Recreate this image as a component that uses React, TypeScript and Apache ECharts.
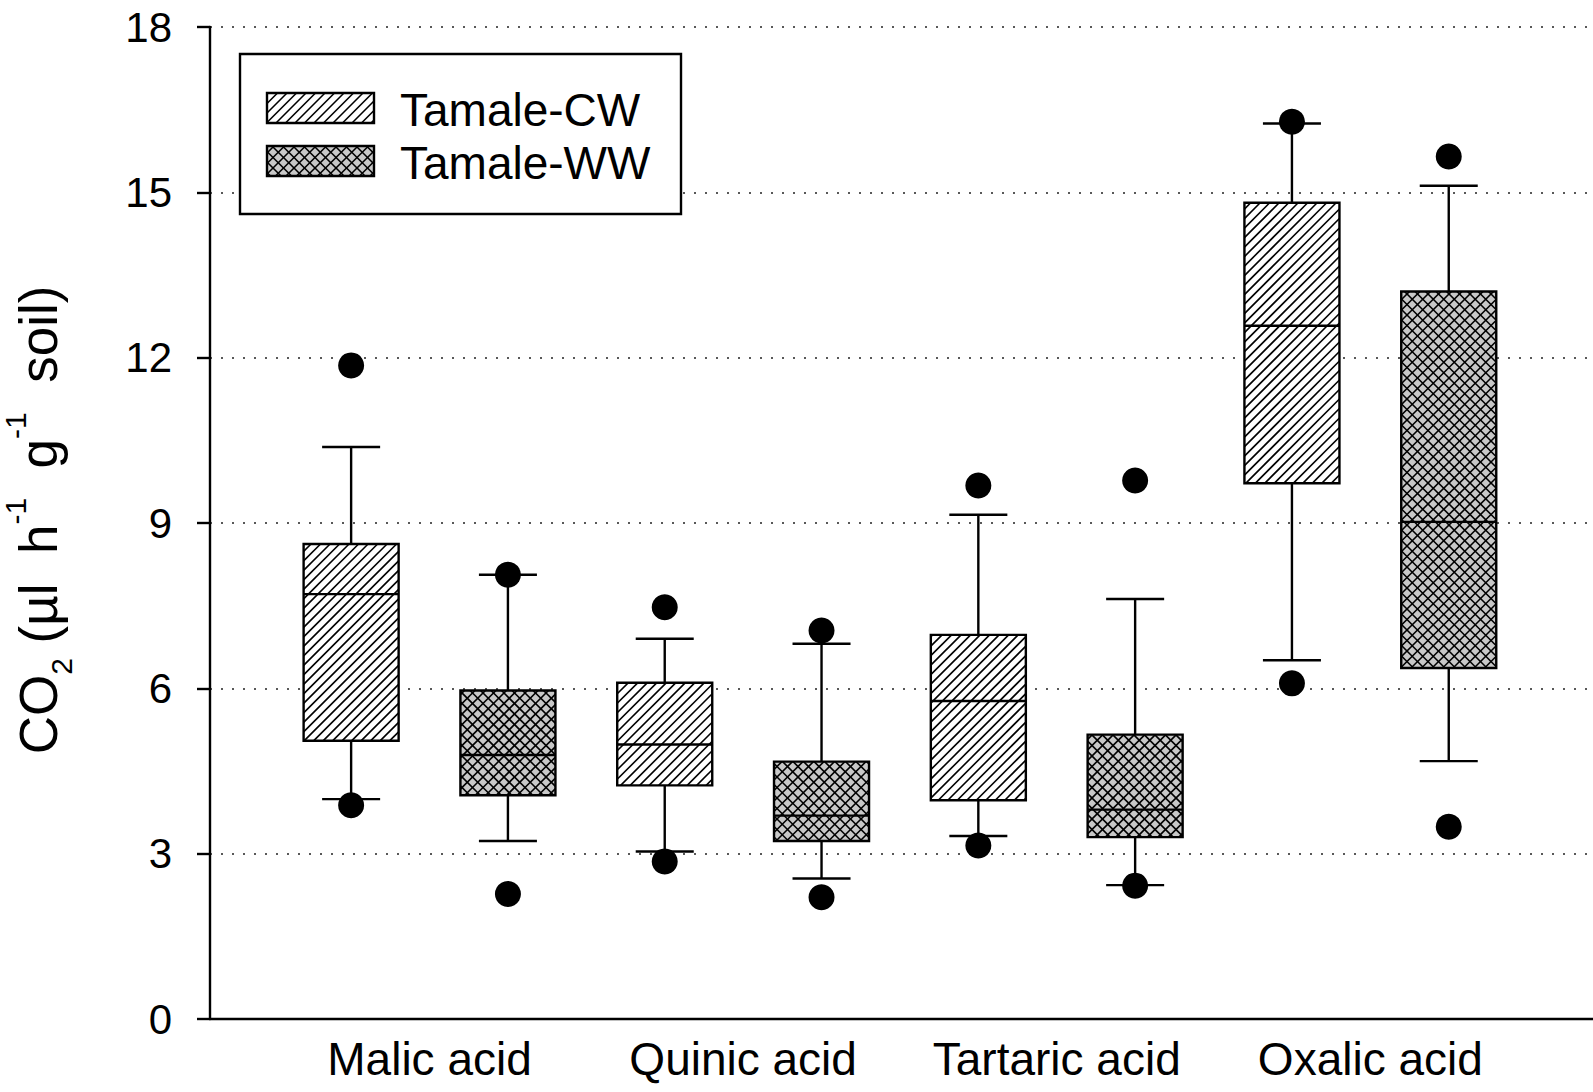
import React, { useEffect, useRef } from "react";
import * as echarts from "echarts";

// ---------- data ----------
const categories = ["Malic acid", "Quinic acid", "Tartaric acid", "Oxalic acid"];
const seriesNames = ["Tamale-CW", "Tamale-WW"];
const yTicks = [0, 3, 6, 9, 12, 15, 18];

// Tamale-CW
const cwWhiskerLow = [3.99, 3.04, 3.32, 6.51];
const cwQ1 = [5.05, 4.24, 3.97, 9.72];
const cwMedian = [7.71, 4.98, 5.77, 12.58];
const cwQ3 = [8.62, 6.1, 6.97, 14.81];
const cwWhiskerHigh = [10.38, 6.9, 9.15, 16.25];
const cwOutLow = [3.88, 2.86, 3.15, 6.09];
const cwOutHigh = [11.86, 7.47, 9.68, 16.28];

// Tamale-WW
const wwWhiskerLow = [3.23, 2.55, 2.43, 4.68];
const wwQ1 = [4.06, 3.23, 3.3, 6.37];
const wwMedian = [4.79, 3.69, 3.8, 9.02];
const wwQ3 = [5.96, 4.67, 5.16, 13.2];
const wwWhiskerHigh = [8.06, 6.81, 7.62, 15.12];
const wwOutLow = [2.27, 2.21, 2.42, 3.49];
const wwOutHigh = [8.06, 7.05, 9.77, 15.65];

// ---------- layout / style ----------
const FONT = "'Liberation Sans', Arial, Helvetica, sans-serif";
const GROUP_OFFSET = 0.25;
const BOX_HALF = 0.1515;
const CAP_HALF = 0.0925;
const CW_SPACING = 9.5;
const WW_SPACING = 10.5;
const WW_FILL = "#c8c8c8";
const LINE_W = 2.4;

type Seg = [number, number, number, number];

function hatchSegments(x0: number, y0: number, x1: number, y1: number, spacing: number, dir: "fwd" | "back"): Seg[] {
  const segs: Seg[] = [];
  if (dir === "fwd") {
    const cStart = Math.ceil((x0 + y0) / spacing) * spacing;
    for (let c = cStart; c <= x1 + y1; c += spacing) {
      const xa = Math.max(x0, c - y1);
      const xb = Math.min(x1, c - y0);
      if (xb > xa) segs.push([xa, c - xa, xb, c - xb]);
    }
  } else {
    const cStart = Math.ceil((y0 - x1) / spacing) * spacing;
    for (let c = cStart; c <= y1 - x0; c += spacing) {
      const xa = Math.max(x0, y0 - c);
      const xb = Math.min(x1, y1 - c);
      if (xb > xa) segs.push([xa, c + xa, xb, c + xb]);
    }
  }
  return segs;
}

function patternElements(x0: number, y0: number, x1: number, y1: number, kind: "cw" | "ww"): any[] {
  const els: any[] = [];
  els.push({
    type: "rect",
    shape: { x: x0, y: y0, width: x1 - x0, height: y1 - y0 },
    style: { fill: kind === "cw" ? "#fff" : WW_FILL, stroke: null },
  });
  const dirs: ("fwd" | "back")[] = kind === "cw" ? ["fwd"] : ["fwd", "back"];
  const lw = kind === "cw" ? 1.6 : 1.6;
  const sp = kind === "cw" ? CW_SPACING : WW_SPACING;
  dirs.forEach((d) => {
    hatchSegments(x0, y0, x1, y1, sp, d).forEach((s) => {
      els.push({
        type: "line",
        shape: { x1: s[0], y1: s[1], x2: s[2], y2: s[3] },
        style: { stroke: "#000", lineWidth: lw },
      });
    });
  });
  els.push({
    type: "rect",
    shape: { x: x0, y: y0, width: x1 - x0, height: y1 - y0 },
    style: { fill: null, stroke: "#000", lineWidth: LINE_W },
  });
  return els;
}

function makeBoxData(offset: number, low: number[], q1: number[], med: number[], q3: number[], high: number[]) {
  return categories.map((_, i) => [i + offset, low[i], q1[i], med[i], q3[i], high[i]]);
}

function makeOutlierData(offset: number, lo: number[], hi: number[]) {
  const out: number[][] = [];
  categories.forEach((_, i) => {
    out.push([i + offset, lo[i]]);
    out.push([i + offset, hi[i]]);
  });
  return out;
}

function renderBox(kind: "cw" | "ww") {
  return (params: any, api: any) => {
    const x = api.value(0);
    const pLow = api.coord([x, api.value(1)]);
    const pQ1 = api.coord([x, api.value(2)]);
    const pMed = api.coord([x, api.value(3)]);
    const pQ3 = api.coord([x, api.value(4)]);
    const pHigh = api.coord([x, api.value(5)]);
    const halfW = api.size([BOX_HALF, 0])[0];
    const capHalf = api.size([CAP_HALF, 0])[0];
    const cx = pQ1[0];
    const line = (x1: number, y1: number, x2: number, y2: number) => ({
      type: "line",
      shape: { x1, y1, x2, y2 },
      style: { stroke: "#000", lineWidth: LINE_W },
    });
    const children: any[] = [
      line(cx, pQ3[1], cx, pHigh[1]),
      line(cx, pQ1[1], cx, pLow[1]),
      line(cx - capHalf, pHigh[1], cx + capHalf, pHigh[1]),
      line(cx - capHalf, pLow[1], cx + capHalf, pLow[1]),
      ...patternElements(cx - halfW, pQ3[1], cx + halfW, pQ1[1], kind),
      line(cx - halfW, pMed[1], cx + halfW, pMed[1]),
    ];
    return { type: "group", children };
  };
}

export default function App() {
  const ref = useRef<HTMLDivElement>(null);

  useEffect(() => {
    if (!ref.current) return;
    const chart = echarts.init(ref.current, undefined, { renderer: "svg" });

    // legend (layout only)
    const legendEls: any[] = [
      {
        type: "rect",
        shape: { x: 240, y: 54, width: 441, height: 160 },
        style: { fill: "#fff", stroke: "#000", lineWidth: 2.4 },
      },
      ...patternElements(267, 93, 374, 123, "cw"),
      ...patternElements(267, 146, 374, 176, "ww"),
      {
        type: "text",
        x: 400,
        y: 110,
        style: { text: seriesNames[0], fontSize: 46, fontFamily: FONT, fill: "#000", align: "left", verticalAlign: "middle" },
      },
      {
        type: "text",
        x: 400,
        y: 163,
        style: { text: seriesNames[1], fontSize: 46, fontFamily: FONT, fill: "#000", align: "left", verticalAlign: "middle" },
      },
    ];

    const titleEl = {
      type: "text",
      x: 38,
      y: 520,
      rotation: Math.PI / 2,
      style: {
        text: "{b|CO}{sub|2}{b| (µl  h}{sup|-1}{b|  g}{sup|-1}{b|  soil)}",
        align: "center",
        verticalAlign: "middle",
        fill: "#000",
        fontFamily: FONT,
        rich: {
          b: { fontSize: 53, lineHeight: 76, fontFamily: FONT, fill: "#000", verticalAlign: "middle" },
          sup: { fontSize: 30, lineHeight: 36, fontFamily: FONT, fill: "#000", verticalAlign: "top" },
          sub: { fontSize: 30, lineHeight: 30, fontFamily: FONT, fill: "#000", verticalAlign: "bottom" },
        },
      },
    };

    const option: any = {
      animation: false,
      backgroundColor: "#fff",
      grid: { left: 210, right: 0, top: 27, bottom: 73, containLabel: false },
      xAxis: {
        type: "value",
        min: -0.7,
        max: 3.71,
        axisLine: { show: true, onZero: false, lineStyle: { color: "#000", width: 2.4 } },
        axisTick: { show: false },
        splitLine: { show: false },
        axisLabel: {
          customValues: [0, 1, 2, 3],
          formatter: (v: number) => categories[Math.round(v)] ?? "",
          fontSize: 46,
          fontFamily: FONT,
          color: "#000",
          margin: 17,
        },
      },
      yAxis: {
        type: "value",
        min: yTicks[0],
        max: yTicks[yTicks.length - 1],
        interval: 3,
        axisLine: { show: true, onZero: false, lineStyle: { color: "#000", width: 2.4 } },
        axisTick: { show: true, length: 13, lineStyle: { color: "#000", width: 2.4 } },
        axisLabel: { fontSize: 42, fontFamily: FONT, color: "#000", margin: 38 },
        splitLine: { show: true, lineStyle: { color: "#222", width: 1.6, type: [2, 9] } },
      },
      graphic: [...legendEls.map((e) => ({ ...e, z: 100 })), titleEl],
      series: [
        {
          type: "custom",
          name: seriesNames[0],
          renderItem: renderBox("cw"),
          data: makeBoxData(-GROUP_OFFSET, cwWhiskerLow, cwQ1, cwMedian, cwQ3, cwWhiskerHigh),
          encode: { x: 0, y: [1, 2, 3, 4, 5] },
          clip: false,
          z: 2,
        },
        {
          type: "custom",
          name: seriesNames[1],
          renderItem: renderBox("ww"),
          data: makeBoxData(GROUP_OFFSET, wwWhiskerLow, wwQ1, wwMedian, wwQ3, wwWhiskerHigh),
          encode: { x: 0, y: [1, 2, 3, 4, 5] },
          clip: false,
          z: 2,
        },
        {
          type: "scatter",
          name: seriesNames[0] + " outliers",
          data: makeOutlierData(-GROUP_OFFSET, cwOutLow, cwOutHigh),
          symbol: "circle",
          symbolSize: 26,
          itemStyle: { color: "#000", opacity: 1 },
          z: 3,
        },
        {
          type: "scatter",
          name: seriesNames[1] + " outliers",
          data: makeOutlierData(GROUP_OFFSET, wwOutLow, wwOutHigh),
          symbol: "circle",
          symbolSize: 26,
          itemStyle: { color: "#000", opacity: 1 },
          z: 3,
        },
      ],
    };

    chart.setOption(option);
    return () => chart.dispose();
  }, []);

  return (
    <div
      ref={ref}
      style={{ position: "absolute", left: 0, top: 0, width: 1593, height: 1092, background: "#fff" }}
    />
  );
}
